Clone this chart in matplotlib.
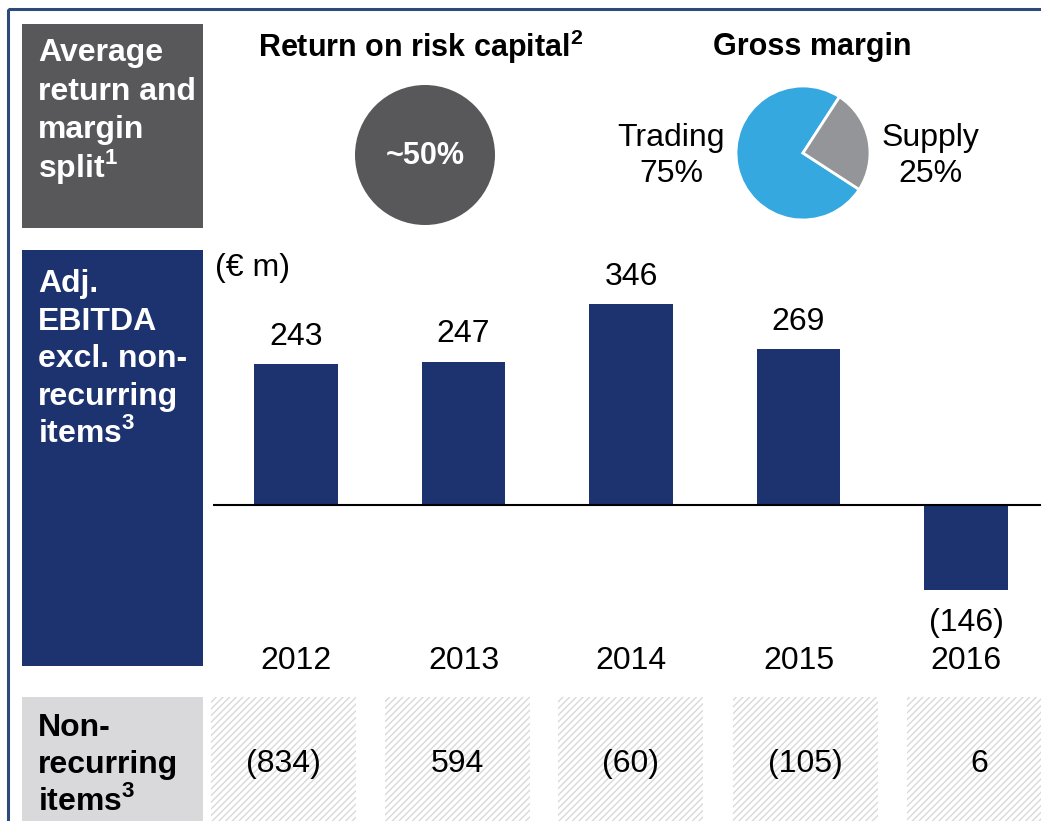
import matplotlib
matplotlib.use("Agg")
import matplotlib.pyplot as plt
from matplotlib.patches import Rectangle, Circle

plt.rcParams["font.family"] = ["Liberation Sans", "DejaVu Sans"]
plt.rcParams["mathtext.fontset"] = "custom"
plt.rcParams["mathtext.rm"] = "Liberation Sans"
plt.rcParams["mathtext.bf"] = "Liberation Sans:bold"

# ── Data ──────────────────────────────────────────────────────────────────────
years = ["2012", "2013", "2014", "2015", "2016"]
adj_ebitda = [243, 247, 346, 269, -146]
non_recurring = [-834, 594, -60, -105, 6]
margin_labels = ["Trading", "Supply"]
margin_split = [75, 25]
return_on_risk = "~50%"

# ── Colours ───────────────────────────────────────────────────────────────────
NAVY = "#1D3370"
DARK_GREY = "#58585A"
LIGHT_GREY = "#D9D9DB"
BLUE = "#35A8E0"
MID_GREY = "#939598"
FRAME = "#2E4A7A"
FS = 23        # body text
FS_TITLE = 22  # section headings


def fmt(v):
    return f"({abs(v)})" if v < 0 else f"{v}"


def sup(n):
    return r"$^{\mathbf{" + str(n) + "}}$"


def stacked(ax, lines, x, y0, step, **kw):
    # one text per line so superscripts don't shift the line pitch
    for k, s in enumerate(lines):
        ax.text(x, y0 + k * step, s, va="baseline", ha="left",
                fontsize=FS, fontweight="bold", **kw)


W, H = 1041, 821
fig = plt.figure(figsize=(W / 100, H / 100), dpi=100)

# overlay in pixel coordinates for boxes and free text
ov = fig.add_axes([0, 0, 1, 1])
ov.set_xlim(0, W)
ov.set_ylim(H, 0)
ov.axis("off")

# outer frame
ov.add_patch(Rectangle((8, 9), 1100, 900, fill=False, edgecolor=FRAME, lw=2.2))

# left header boxes
ov.add_patch(Rectangle((22, 24), 181, 204, color=DARK_GREY, lw=0))
ov.add_patch(Rectangle((22, 250), 181, 416, color=NAVY, lw=0))
ov.add_patch(Rectangle((22, 697), 181, 140, color=LIGHT_GREY, lw=0))

stacked(ov, ["Average", "return and", "margin", "split" + sup(1)],
        38, 61, 38.7, color="white")
stacked(ov, ["Adj.", "EBITDA", "excl. non-", "recurring", "items" + sup(3)],
        38, 292, 37.5, color="white")
stacked(ov, ["Non-", "recurring", "items" + sup(3)],
        38, 736, 37.2, color="black")

# top section titles
ov.text(421, 47, "Return on risk capital" + sup(2), fontsize=FS_TITLE,
        fontweight="bold", ha="center", va="center")
ov.text(812, 47, "Gross margin", fontsize=FS_TITLE, fontweight="bold",
        ha="center", va="center")

# return on risk capital circle
ov.add_patch(Circle((425, 155), 70, color=DARK_GREY, lw=0))
ov.text(425, 156, return_on_risk, color="white", fontsize=FS_TITLE,
        fontweight="bold", ha="center", va="center")

# pie labels
ov.text(671, 156, f"{margin_labels[0]}\n{margin_split[0]}%", fontsize=FS,
        ha="center", va="center", linespacing=1.25)
ov.text(930, 156, f"{margin_labels[1]}\n{margin_split[1]}%", fontsize=FS,
        ha="center", va="center", linespacing=1.25)

ov.text(215, 268, "(\u20ac m)", fontsize=FS, ha="left", va="center")

# non-recurring items row
box_left = [211, 385, 558, 733, 907]
for x0, v in zip(box_left, non_recurring):
    ov.add_patch(Rectangle((x0, 697), 145, 140, facecolor="white",
                           edgecolor="#D9D9D9", hatch="/////", lw=0))
    ov.text(x0 + 72, 764, fmt(v), fontsize=FS, ha="center", va="center")

# ── Pie ───────────────────────────────────────────────────────────────────────
pr = 67
pax = fig.add_axes([(803 - pr) / W, 1 - (153 + pr) / H, 2 * pr / W, 2 * pr / H])
pax.pie(margin_split, colors=[BLUE, MID_GREY], startangle=57, counterclock=True,
        wedgeprops=dict(edgecolor="white", linewidth=2))
pax.set_xlim(-1, 1)
pax.set_ylim(-1, 1)
pax.axis("off")

# ── Bars ──────────────────────────────────────────────────────────────────────
px_per_unit = 0.58
base_px = 505
top_px, bot_px = 240, 680
bax = fig.add_axes([213 / W, 1 - bot_px / H, (W - 213) / W, (bot_px - top_px) / H])
bax.patch.set_alpha(0)
x = list(range(len(years)))
bax.bar(x, adj_ebitda, width=0.496, color=NAVY, zorder=2)
bax.axhline(0, color="black", lw=1.5, zorder=3)
bax.set_xlim(-83 / 167.5, (W - 296) / 167.5)
bax.set_ylim(-(bot_px - base_px) / px_per_unit, (base_px - top_px) / px_per_unit)
bax.axis("off")

for i, v in zip(x, adj_ebitda):
    if v >= 0:
        bax.text(i, v + 47, fmt(v), fontsize=FS, ha="center", va="center")
    else:
        bax.text(i, v - 57, fmt(v), fontsize=FS, ha="center", va="center")
    bax.text(i, -156 / px_per_unit, years[i], fontsize=FS, ha="center", va="center")

fig.savefig("out.png", dpi=100)
